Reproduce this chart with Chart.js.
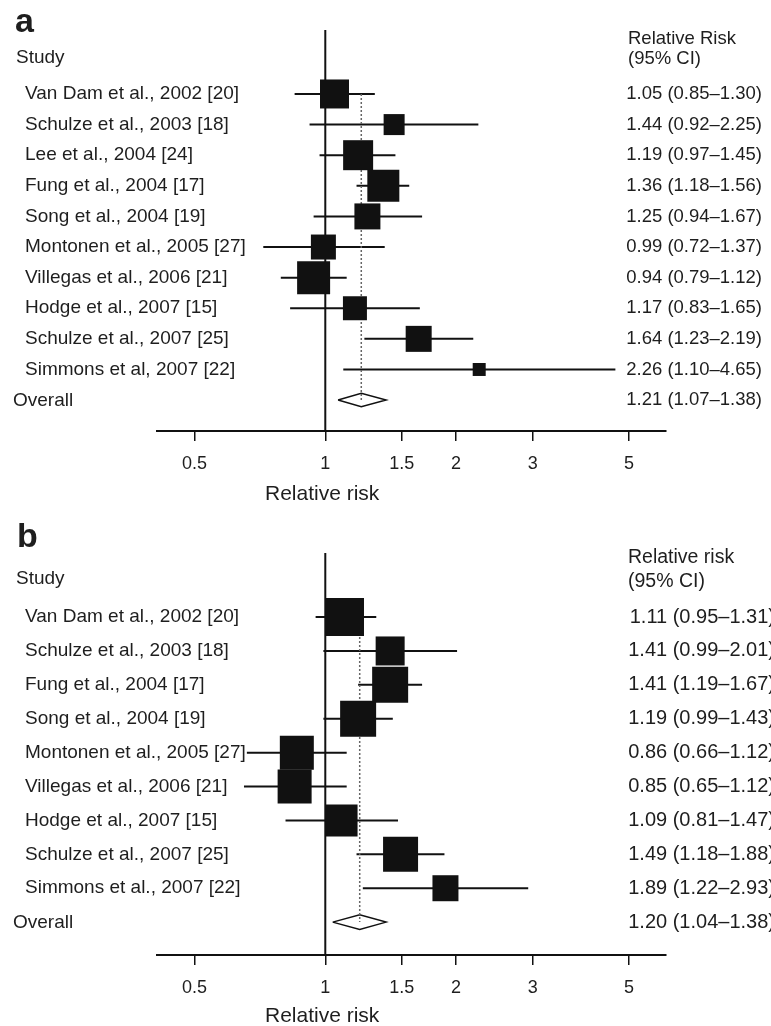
<!DOCTYPE html>
<html><head><meta charset="utf-8">
<script src="https://cdn.jsdelivr.net/npm/chart.js@4.4.1/dist/chart.umd.min.js"></script>
<style>
body{margin:0;background:#fff;width:771px;height:1026px;position:relative;overflow:hidden;font-family:"Liberation Sans",Arial,sans-serif;color:#1e1e1e}
canvas{position:absolute;left:0}
.t{position:absolute;white-space:nowrap;font-size:19px;line-height:18px}
.big{font-size:34px;line-height:34px;font-weight:bold}
.ttl{font-size:21px;line-height:21px}
</style></head><body>
<canvas id="ca" width="771" height="510" style="top:0px"></canvas>
<canvas id="cb" width="771" height="516" style="top:510px"></canvas>

<div class="t big" style="left:15px;top:3px">a</div>
<div class="t" style="left:16px;top:48px">Study</div>
<div class="t" style="left:628px;top:29px;font-size:18.5px">Relative Risk</div>
<div class="t" style="left:628px;top:49px;font-size:18.5px">(95% CI)</div>
<div class="t" id="ova" style="left:13px;top:0">Overall</div>
<div class="t ttl" style="left:265px;top:482px">Relative risk</div>

<div class="t big" style="left:17px;top:518px">b</div>
<div class="t" style="left:16px;top:569px">Study</div>
<div class="t" style="left:628px;top:547px;font-size:19.5px">Relative risk</div>
<div class="t" style="left:628px;top:571px;font-size:19.5px">(95% CI)</div>
<div class="t" id="ovb" style="left:13px;top:0">Overall</div>
<div class="t ttl" style="left:265px;top:1004px">Relative risk</div>

<script>
// ---------- data: panel a ----------
const namesA = ["Van Dam et al., 2002 [20]","Schulze et al., 2003 [18]","Lee et al., 2004 [24]","Fung et al., 2004 [17]","Song et al., 2004 [19]","Montonen et al., 2005 [27]","Villegas et al., 2006 [21]","Hodge et al., 2007 [15]","Schulze et al., 2007 [25]","Simmons et al, 2007 [22]"];
const rrA = [1.05,1.44,1.19,1.36,1.25,0.99,0.94,1.17,1.64,2.26];
const loA = [0.85,0.92,0.97,1.18,0.94,0.72,0.79,0.83,1.23,1.10];
const hiA = [1.30,2.25,1.45,1.56,1.67,1.37,1.12,1.65,2.19,4.65];
const weightA = [29,21,30,32,26,25,33,24,26,13];   // relative box size (study weight)
const overallA = [1.21,1.07,1.38];

// ---------- data: panel b ----------
const namesB = ["Van Dam et al., 2002 [20]","Schulze et al., 2003 [18]","Fung et al., 2004 [17]","Song et al., 2004 [19]","Montonen et al., 2005 [27]","Villegas et al., 2006 [21]","Hodge et al., 2007 [15]","Schulze et al., 2007 [25]","Simmons et al., 2007 [22]"];
const rrB = [1.11,1.41,1.41,1.19,0.86,0.85,1.09,1.49,1.89];
const loB = [0.95,0.99,1.19,0.99,0.66,0.65,0.81,1.18,1.22];
const hiB = [1.31,2.01,1.67,1.43,1.12,1.12,1.47,1.88,2.93];
const weightB = [38,29,36,36,34,34,32,35,26];
const overallB = [1.20,1.04,1.38];

// ---------- axis ----------
const xTicks = [0.5,1,1.5,2,3,5];
const xTickLabels = ["0.5","1","1.5","2","3","5"];

const FONT = '"Liberation Sans", Arial, sans-serif';
const INK = '#111';
const TXT = '#1e1e1e';
const f2 = v => v.toFixed(2);
const ciText = (r,l,h) => f2(r) + ' (' + f2(l) + '\u2013' + f2(h) + ')';

function forest(id, names, rr, lo, hi, w, ov, L) {
  const n = names.length;
  const rows = [...Array(n + 1).keys()];
  const rightText = rr.map((r,i) => ciText(r, lo[i], hi[i])).concat([ciText(ov[0], ov[1], ov[2])]);
  const ds = [];
  ds.push({label:'boxes', data: rr.map((v,i)=>({x:v,y:i})), showLine:false,
    pointStyle:'rect', pointRadius: w.map(s=>s/Math.SQRT2), pointHoverRadius: w.map(s=>s/Math.SQRT2),
    pointBackgroundColor: INK, pointBorderWidth:0, pointBorderColor: INK});
  ds.push({label:'pooled', data:[{x:ov[0],y:0},{x:ov[0],y:n}], showLine:true, pointRadius:0,
    borderColor:'#666', borderWidth:1.5, borderDash:[2,2]});
  const dh = 0.22;
  ds.push({label:'overall', data:[{x:ov[1],y:n},{x:ov[0],y:n-dh},{x:ov[2],y:n},{x:ov[0],y:n+dh},{x:ov[1],y:n}],
    showLine:true, pointRadius:0, borderColor:INK, borderWidth:1.5, fill:false});
  lo.forEach((l,i) => ds.push({label:'ci'+i, data:[{x:l,y:i},{x:hi[i],y:i}], showLine:true, pointRadius:0,
    borderColor:INK, borderWidth:2}));
  ds.push({label:'null', data:[{x:1,y:L.yMin},{x:1,y:L.yMax}], showLine:true, pointRadius:0, borderColor:INK, borderWidth:2});

  const noPad = (s, wdt) => { s.width = wdt; s.paddingTop = 0; s.paddingBottom = 0; };
  const chart = new Chart(document.getElementById(id), {
    type:'scatter',
    data:{datasets: ds},
    options:{
      responsive:false, animation:false, devicePixelRatio:1, events:[],
      layout:{padding:{left:25, right:0, top:L.top, bottom:0}},
      plugins:{legend:{display:false}, tooltip:{enabled:false}},
      scales:{
        x:{type:'logarithmic', min:0.41, max:6.08,
          afterBuildTicks: s => { s.ticks = xTicks.map(v=>({value:v})); },
          afterFit: s => { s.height = L.xh; s.paddingLeft = 0; s.paddingRight = 0; },
          ticks:{callback:(v,i)=>xTickLabels[i], font:{family:FONT, size:18}, color:TXT, padding:12, autoSkip:false, maxRotation:0},
          grid:{drawOnChartArea:false, drawTicks:true, tickLength:10, color:INK, lineWidth:1.5},
          border:{display:true, color:INK, width:2}},
        y:{type:'linear', reverse:true, min:L.yMin, max:L.yMax,
          afterBuildTicks: s => { s.ticks = rows.map(v=>({value:v})); },
          afterFit: s => noPad(s, 132),
          ticks:{callback:v => (v < n ? names[v] : ''), mirror:true, crossAlign:'near', font:{family:FONT, size:19}, color:TXT, padding:-132, autoSkip:false},
          grid:{display:false, drawTicks:false}, border:{display:false}},
        y2:{type:'linear', position:'right', reverse:true, min:L.yMin, max:L.yMax,
          afterBuildTicks: s => { s.ticks = rows.map(v=>({value:v})); },
          afterFit: s => noPad(s, 105),
          ticks:{callback:v => rightText[v], mirror:true, crossAlign:'near', font:{family:FONT, size:L.rs}, color:TXT, padding:L.rp, autoSkip:false},
          grid:{display:false, drawTicks:false}, border:{display:false}}
      }
    }
  });
  return chart;
}

const ca = forest('ca', namesA, rrA, loA, hiA, weightA, overallA, {top:30, xh:79, yMin:-2.09, yMax:11.01, rp:96, rs:18.5});
const cb = forest('cb', namesB, rrB, loB, hiB, weightB, overallB, {top:43, xh:71, yMin:-1.89, yMax:9.97, rp:109, rs:20});
document.getElementById('ova').style.top = (ca.scales.y.getPixelForValue(namesA.length) - 9) + 'px';
document.getElementById('ovb').style.top = (510 + cb.scales.y.getPixelForValue(namesB.length) - 9) + 'px';
</script>
</body></html>
